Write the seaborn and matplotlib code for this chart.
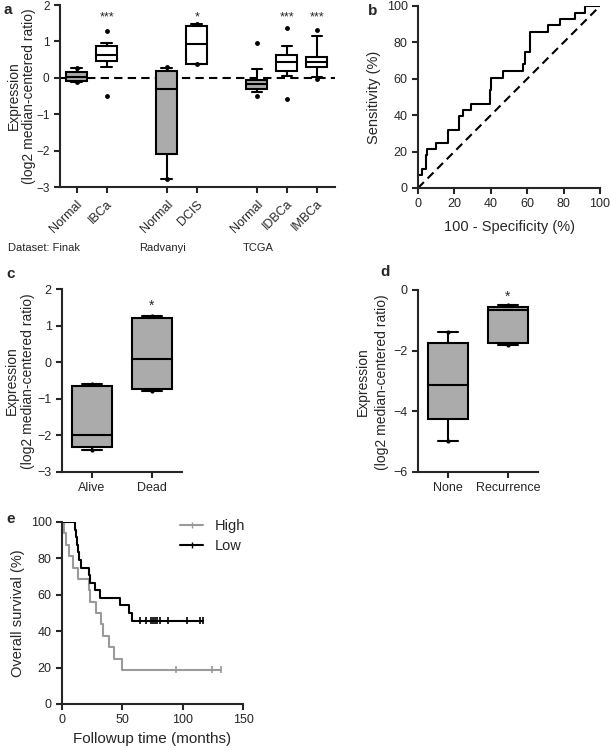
import numpy as np
import pandas as pd
import seaborn as sns
import matplotlib.pyplot as plt
from matplotlib.lines import Line2D

# ---- panel a: box summaries (min, q1, median, q3, max) ----
a_order = ['Finak Normal', 'Finak IBCa', 'gap1', 'Radvanyi Normal', 'Radvanyi DCIS', 'gap2',
           'TCGA Normal', 'TCGA IDBCa', 'TCGA IMBCa']
a_groups = ['Finak Normal', 'Finak IBCa', 'Radvanyi Normal', 'Radvanyi DCIS',
            'TCGA Normal', 'TCGA IDBCa', 'TCGA IMBCa']
a_labels = ['Normal', 'IBCa', 'Normal', 'DCIS', 'Normal', 'IDBCa', 'IMBCa']
a_kind = ['normal', 'tumor', 'normal', 'tumor', 'normal', 'tumor', 'tumor']
a_five = [[-0.12, -0.09, 0.01, 0.15, 0.26],
          [0.30, 0.46, 0.62, 0.87, 0.96],
          [-2.79, -2.08, -0.32, 0.19, 0.28],
          [0.37, 0.39, 0.92, 1.42, 1.48],
          [-0.38, -0.31, -0.16, -0.06, 0.24],
          [0.05, 0.20, 0.44, 0.63, 0.86],
          [0.01, 0.29, 0.44, 0.58, 1.14]]
a_pts_group = ['Finak Normal', 'Finak Normal', 'Finak IBCa', 'Finak IBCa',
               'Radvanyi Normal', 'Radvanyi Normal', 'Radvanyi DCIS', 'Radvanyi DCIS',
               'TCGA Normal', 'TCGA Normal', 'TCGA IDBCa', 'TCGA IDBCa', 'TCGA IMBCa', 'TCGA IMBCa']
a_pts_value = [0.27, -0.12, 1.28, -0.50, 0.29, -2.79, 1.48, 0.37, 0.95, -0.50, 1.38, -0.58, 1.30, -0.02]
a_stars = {'Finak IBCa': '***', 'Radvanyi DCIS': '*', 'TCGA IDBCa': '***', 'TCGA IMBCa': '***'}
a_datasets = ['Dataset: Finak', 'Radvanyi', 'TCGA']

# ---- panel b: ROC curve ----
roc_fpr = [0, 2, 4.5, 5.2, 10, 16.5, 22.6, 24.8, 29, 39.3, 40.3, 46.6, 57.6, 58.6,
           61.8, 71.5, 77.9, 86.5, 91.5, 100]
roc_tpr = [7.1, 10.7, 17.9, 21.4, 25.0, 32.1, 39.3, 42.9, 46.4, 53.6, 60.7, 64.3, 67.9, 75.0,
           85.7, 89.3, 92.9, 96.4, 100, 100]

# ---- panel c / d: box summaries ----
c_groups = ['Alive', 'Dead']
c_five = [[-2.40, -2.33, -2.00, -0.65, -0.60],
          [-0.78, -0.72, 0.10, 1.20, 1.27]]
d_groups = ['None', 'Recurrence']
d_five = [[-4.98, -4.26, -3.14, -1.76, -1.37],
          [-1.81, -1.74, -0.66, -0.57, -0.50]]

# ---- panel e: Kaplan-Meier ----
high_t = [0, 1.7, 3.3, 6.1, 8.9, 13, 22, 23.3, 28.3, 32.5, 33.6, 39.2, 43.3, 50, 132]
high_s = [100, 93.75, 87.5, 81.25, 75, 68.75, 62.5, 56.25, 50, 43.75, 37.5, 31.25, 25, 18.75, 18.75]
high_cens = [94.7, 123.9, 131.5]
low_t = [0, 10.8, 11.6, 12.4, 13.3, 14.4, 15.5, 22.5, 23.4, 27, 31.7, 48.3, 55.3, 58, 117]
low_s = [100, 95.8, 91.7, 87.5, 83.3, 79.2, 75, 70.8, 66.7, 62.5, 58.3, 54.2, 50, 45.8, 45.8]
low_cens = [65, 70, 73.5, 75.5, 77, 79, 81, 87.5, 104, 114, 116.5]

GRAY = '#ababab'
KM_GRAY = '#9a9a9a'
YLAB1 = 'Expression'
YLAB2 = '(log2 median-centered ratio)'

sns.set_theme(style='ticks')
plt.rcParams['font.family'] = ['Liberation Sans', 'DejaVu Sans']
plt.rcParams['axes.linewidth'] = 1.5
plt.rcParams['xtick.major.width'] = 1.5
plt.rcParams['ytick.major.width'] = 1.5
plt.rcParams['xtick.major.size'] = 4
plt.rcParams['ytick.major.size'] = 4

fig = plt.figure(figsize=(6.1, 7.48), dpi=100)
W, H = 610, 748


def add_ax(x0, y_top, x1, y_bot):
    return fig.add_axes([x0 / W, 1 - y_bot / H, (x1 - x0) / W, (y_bot - y_top) / H])


def ftext(x, y, s, **kw):
    # text placed in figure pixels from top-left
    fig.text(x / W, 1 - y / H, s, **kw)


def two_line_ylabel(x1, x2, yc):
    ftext(x1, yc, YLAB1, rotation=90, ha='center', va='center', fontsize=10)
    ftext(x2, yc, YLAB2, rotation=90, ha='center', va='center', fontsize=10)


def five_df(groups, fives, kinds=None):
    rows = []
    for i, (g, f) in enumerate(zip(groups, fives)):
        for v in f:
            rows.append({'group': g, 'value': v, 'kind': kinds[i] if kinds else 'normal'})
    return pd.DataFrame(rows)


# ================= a =================
ax = add_ax(60, 5, 335, 187)
df_a = five_df(a_groups, a_five, a_kind)
sns.boxplot(data=df_a, x='group', y='value', hue='kind', order=a_order,
            hue_order=['normal', 'tumor'], palette={'normal': GRAY, 'tumor': 'white'},
            dodge=False, whis=(0, 100), showfliers=False, width=0.7,
            linecolor='black', linewidth=1.5, legend=False, ax=ax)
pts_a = pd.DataFrame({'group': a_pts_group, 'value': a_pts_value})
sns.stripplot(data=pts_a, x='group', y='value', order=a_order, jitter=False,
              color='black', size=3.5, ax=ax)
ax.axhline(0, color='black', lw=1.5, ls=(0, (4, 2.5)), zorder=0.5)
ax.set_ylim(-3, 2)
ax.set_xlim(-0.55, 8.6)
ax.set_yticks([-3, -2, -1, 0, 1, 2])
pos = [a_order.index(g) for g in a_groups]
ax.set_xticks(pos)
ax.set_xticklabels(a_labels, rotation=45, ha='right', rotation_mode='anchor', fontsize=9)
ax.tick_params(axis='x', pad=4)
for g, s in a_stars.items():
    ax.text(a_order.index(g), 1.48, s, ha='center', va='bottom', fontsize=9)
ax.set_xlabel('')
ax.set_ylabel('')
ax.tick_params(axis='y', labelsize=8.5)
sns.despine(ax=ax)
two_line_ylabel(14, 29, 96)
ftext(8, 248, a_datasets[0], fontsize=8, va='center')
ftext(163, 248, a_datasets[1], fontsize=8, va='center', ha='center')
ftext(258, 248, a_datasets[2], fontsize=8, va='center', ha='center')

# ================= b =================
ax = add_ax(418, 6, 600, 188)
sns.lineplot(x=roc_fpr, y=roc_tpr, drawstyle='steps-post', color='black', lw=1.5,
             estimator=None, sort=False, ax=ax)
sns.lineplot(x=[0, 100], y=[0, 100], color='black', lw=1.5, ls=(0, (4, 2.5)), ax=ax)
ax.set_xlim(0, 100)
ax.set_ylim(0, 100)
ax.set_xticks(range(0, 101, 20))
ax.set_yticks(range(0, 101, 20))
ax.tick_params(labelsize=9)
ax.set_xlabel('100 - Specificity (%)', fontsize=10.5, labelpad=7)
ax.set_ylabel('Sensitivity (%)', fontsize=10.5)
sns.despine(ax=ax)


def box_panel(ax, groups, fives, ylim, yticks, star_y):
    df = five_df(groups, fives)
    sns.boxplot(data=df, x='group', y='value', color=GRAY, whis=(0, 100), showfliers=False,
                width=0.67, linecolor='black', linewidth=1.5, ax=ax)
    ext = df.groupby('group', sort=False)['value'].agg(['min', 'max']).reset_index()
    ext = ext.melt(id_vars='group', value_name='value')
    sns.stripplot(data=ext, x='group', y='value', order=groups, jitter=False,
                  color='black', size=3, ax=ax)
    ax.text(1, star_y, '*', ha='center', va='bottom', fontsize=10)
    ax.set_ylim(*ylim)
    ax.set_yticks(yticks)
    ax.set_xlim(-0.5, 1.5)
    ax.set_xlabel('')
    ax.set_ylabel('')
    ax.tick_params(labelsize=9)
    sns.despine(ax=ax)


# ================= c =================
ax = add_ax(62, 289, 182, 472)
box_panel(ax, c_groups, c_five, (-3, 2), [-3, -2, -1, 0, 1, 2], 1.35)
two_line_ylabel(12, 28, 381)

# ================= d =================
ax = add_ax(418, 290, 538, 472)
box_panel(ax, d_groups, d_five, (-6, 0), [-6, -4, -2, 0], -0.45)
two_line_ylabel(363, 382, 382)

# ================= e =================
ax = add_ax(62, 522, 243, 704)
km = pd.DataFrame({'time': high_t + low_t, 'surv': high_s + low_s,
                   'group': ['High'] * len(high_t) + ['Low'] * len(low_t)})
pal = {'High': KM_GRAY, 'Low': 'black'}
sns.lineplot(data=km, x='time', y='surv', hue='group', palette=pal, drawstyle='steps-post',
             estimator=None, sort=False, lw=1.5, legend=False, ax=ax)
cens = pd.DataFrame({'time': high_cens + low_cens,
                     'surv': [high_s[-1]] * len(high_cens) + [low_s[-1]] * len(low_cens),
                     'group': ['High'] * len(high_cens) + ['Low'] * len(low_cens)})
sns.scatterplot(data=cens, x='time', y='surv', hue='group', palette=pal, marker='|',
                s=25, linewidth=1.2, legend=False, ax=ax)
ax.set_xlim(0, 150)
ax.set_ylim(0, 100)
ax.set_xticks([0, 50, 100, 150])
ax.set_yticks(range(0, 101, 20))
ax.tick_params(labelsize=9)
ax.set_xlabel('Followup time (months)', fontsize=11)
ax.set_ylabel('Overall survival (%)', fontsize=10.5)
handles = [Line2D([], [], color=pal[g], lw=1.5, marker='|', markersize=5) for g in ['High', 'Low']]
ax.legend(handles, ['High', 'Low'], frameon=False, fontsize=10.5, loc='upper left',
          bbox_to_anchor=(0.58, 1.09), handlelength=1.6, labelspacing=0.45, numpoints=1)
sns.despine(ax=ax)

# panel letters
for letter, (x, y) in {'a': (4, 10), 'b': (368, 11), 'c': (6, 274), 'd': (380, 272),
                       'e': (6, 519)}.items():
    ftext(x, y, letter, fontsize=11, fontweight='bold', va='center')

fig.savefig('out.png', dpi=100)
